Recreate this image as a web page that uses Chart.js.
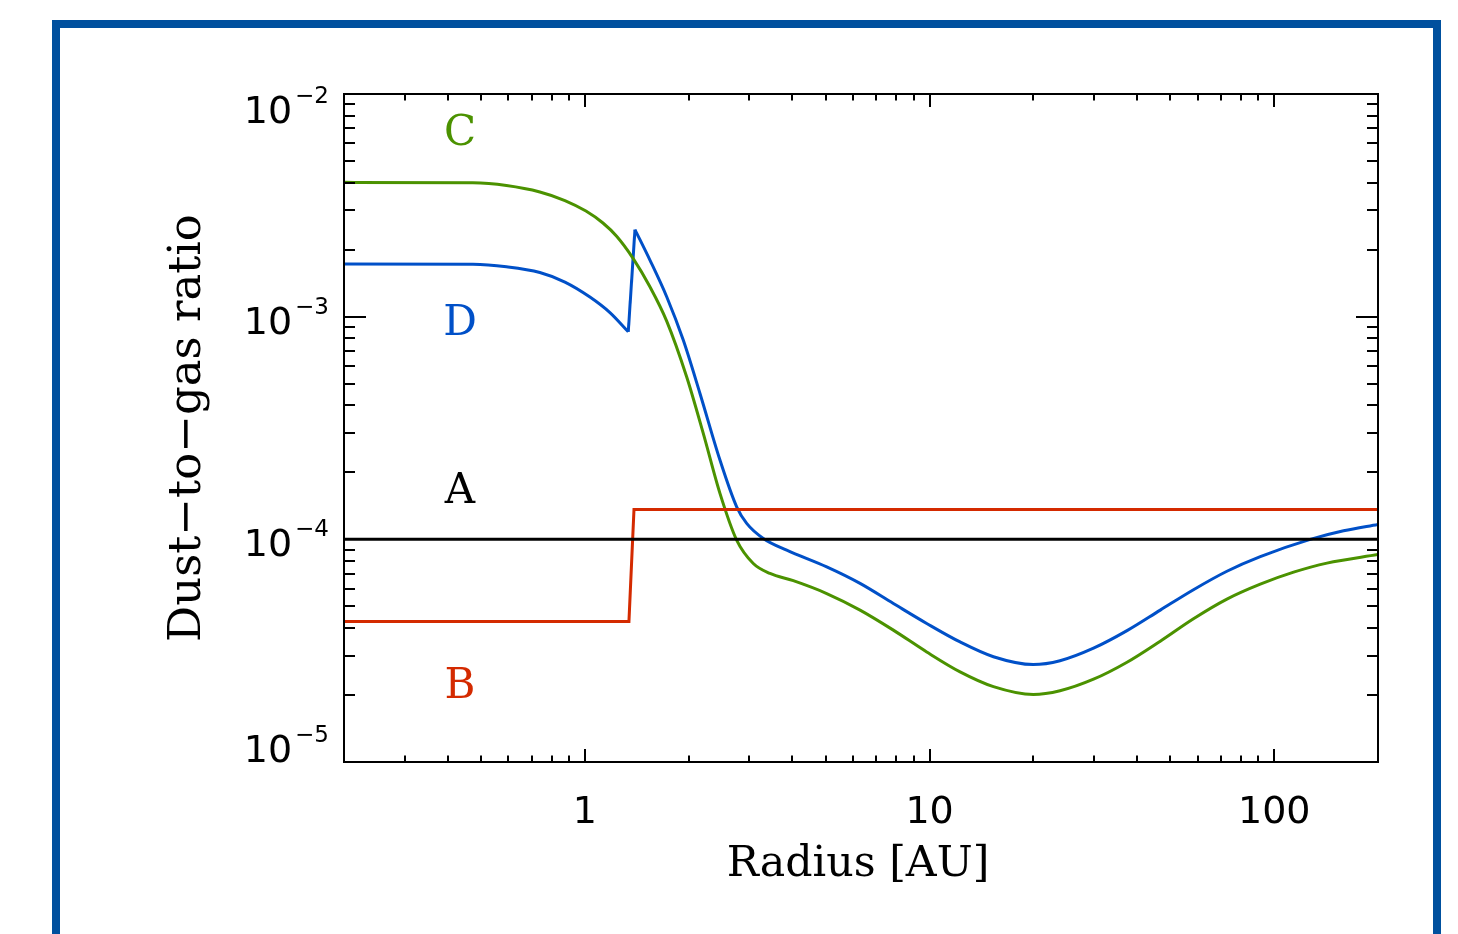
<!DOCTYPE html>
<html>
<head>
<meta charset="utf-8">
<script src="https://cdn.jsdelivr.net/npm/chart.js@4.4.1/dist/chart.umd.min.js"></script>
<style>
  html, body { margin: 0; padding: 0; background: #ffffff; }
  canvas { display: block; }
</style>
</head>
<body>
<canvas id="c" width="1458" height="934"></canvas>
<script>
// ---------- data ----------
const xRange = [0.2, 200];
const yRange = [1e-5, 1e-2];

const xTickValues = [1, 10, 100];
const xTickLabels = ['1', '10', '100'];
const yTickValues = [1e-5, 1e-4, 1e-3, 1e-2];
const yTickBase = '10';
const yTickExponents = ['\u22125', '\u22124', '\u22123', '\u22122'];

const xTitle = 'Radius [AU]';
const yTitle = 'Dust\u2212to\u2212gas ratio';

// Curve A (black)
const aX = [0.2, 200];
const aY = [1e-4, 1e-4];

// Curve B (red)
const bX = [0.2, 1.342, 1.388, 200];
const bY = [4.28e-5, 4.28e-5, 1.362e-4, 1.362e-4];

// Curve C (green)
const cX = [0.2, 0.473, 0.592, 0.740, 0.875, 1.007, 1.128, 1.236, 1.381, 1.544, 1.727, 1.973, 2.205, 2.465, 2.756, 3.080, 3.443, 4.024, 5.03, 6.285, 7.85, 9.81, 12.26, 15.32, 20.0, 23.9, 29.9, 37.4, 46.7, 58.3, 72.9, 91.1, 113.8, 142.2, 200];
const cY = [4.01e-3, 3.99e-3, 3.88e-3, 3.63e-3, 3.323e-3, 2.98e-3, 2.634e-3, 2.297e-3, 1.823e-3, 1.362e-3, 9.55e-4, 5.37e-4, 2.99e-4, 1.608e-4, 9.92e-5, 7.79e-5, 7.03e-5, 6.52e-5, 5.71e-5, 4.81e-5, 3.91e-5, 3.12e-5, 2.54e-5, 2.18e-5, 2.01e-5, 2.09e-5, 2.355e-5, 2.807e-5, 3.49e-5, 4.40e-5, 5.39e-5, 6.29e-5, 7.12e-5, 7.82e-5, 8.54e-5];

// Curve D (blue), inner part (up to the dip) and outer part (from the peak)
const dInnerX = [0.2, 0.473, 0.592, 0.740, 0.875, 1.034, 1.182, 1.336];
const dInnerY = [1.722e-3, 1.718e-3, 1.674e-3, 1.578e-3, 1.430e-3, 1.225e-3, 1.043e-3, 8.55e-4];
const dOuterX = [1.397, 1.544, 1.727, 1.929, 2.157, 2.465, 2.756, 2.947, 3.293, 3.850, 5.03, 6.285, 7.85, 9.81, 12.26, 15.32, 20.0, 23.9, 29.9, 37.4, 46.7, 58.3, 72.9, 91.1, 127.2, 158.9, 200];
const dOuterY = [2.462e-3, 1.796e-3, 1.229e-3, 7.85e-4, 4.52e-4, 2.27e-4, 1.40e-4, 1.179e-4, 1.009e-4, 8.94e-5, 7.52e-5, 6.34e-5, 5.15e-5, 4.19e-5, 3.46e-5, 2.97e-5, 2.74e-5, 2.85e-5, 3.245e-5, 3.89e-5, 4.81e-5, 5.94e-5, 7.19e-5, 8.36e-5, 9.99e-5, 1.092e-4, 1.167e-4];

const curveLabels = ['A', 'B', 'C', 'D'];
const curveLabelX = [0.434, 0.434, 0.434, 0.434];
const curveLabelY = [1.456e-4, 1.94e-5, 5.9e-3, 8.27e-4];

// ---------- styles ----------
const COL_A = '#000000';
const COL_B = '#d42a00';
const COL_C = '#4b9200';
const COL_D = '#0050c8';
const COL_FRAME = '#00509e';

function pts(xs, ys) { return xs.map((x, i) => ({ x: x, y: ys[i] })); }

const datasets = [
  { label: 'A', data: pts(aX, aY), borderColor: COL_A, borderWidth: 3, tension: 0 },
  { label: 'B', data: pts(bX, bY), borderColor: COL_B, borderWidth: 3, tension: 0 },
  { label: 'C', data: pts(cX, cY), borderColor: COL_C, borderWidth: 3, cubicInterpolationMode: 'monotone' },
  { label: 'D', data: pts(dInnerX, dInnerY), borderColor: COL_D, borderWidth: 3, cubicInterpolationMode: 'monotone' },
  { label: 'D jump', data: [
      { x: dInnerX[dInnerX.length - 1], y: dInnerY[dInnerY.length - 1] },
      { x: dOuterX[0], y: dOuterY[0] }
    ], borderColor: COL_D, borderWidth: 3, tension: 0 },
  { label: 'D outer', data: pts(dOuterX, dOuterY), borderColor: COL_D, borderWidth: 3, cubicInterpolationMode: 'monotone' }
];

function fitFont(ctx, text, family, targetWidth) {
  ctx.font = '40px "' + family + '"';
  const w = ctx.measureText(text).width;
  return 40 * targetWidth / w;
}

const axesPlugin = {
  id: 'idlAxes',
  beforeDraw(chart) {
    const ctx = chart.ctx;
    ctx.save();
    ctx.fillStyle = '#ffffff';
    ctx.fillRect(0, 0, chart.width, chart.height);
    ctx.restore();
  },
  afterDatasetsDraw(chart) {
    const ctx = chart.ctx;
    const xs = chart.scales.x, ys = chart.scales.y;
    const a = chart.chartArea;
    ctx.save();
    ctx.strokeStyle = '#000000';
    ctx.lineWidth = 2;
    ctx.lineCap = 'butt';
    ctx.strokeRect(a.left, a.top, a.right - a.left, a.bottom - a.top);

    // x ticks (inside, bottom and top)
    const xMajorLen = 13, xMinorLen = 6.5;
    const xMinor = [];
    [0.1, 1, 10, 100].forEach(d => { for (let k = 2; k <= 9; k++) { const v = k * d; if (v > xRange[0] * 1.001 && v < xRange[1] * 0.999) xMinor.push(v); } });
    ctx.beginPath();
    xMinor.forEach(v => {
      const px = Math.round(xs.getPixelForValue(v));
      ctx.moveTo(px, a.bottom); ctx.lineTo(px, a.bottom - xMinorLen);
      ctx.moveTo(px, a.top); ctx.lineTo(px, a.top + xMinorLen);
    });
    xTickValues.forEach(v => {
      const px = Math.round(xs.getPixelForValue(v));
      ctx.moveTo(px, a.bottom); ctx.lineTo(px, a.bottom - xMajorLen);
      ctx.moveTo(px, a.top); ctx.lineTo(px, a.top + xMajorLen);
    });
    // y ticks (inside, left and right)
    const yMajorLen = 22, yMinorLen = 11;
    [1e-5, 1e-4, 1e-3].forEach(d => {
      for (let k = 2; k <= 9; k++) {
        const py = Math.round(ys.getPixelForValue(k * d));
        ctx.moveTo(a.left, py); ctx.lineTo(a.left + yMinorLen, py);
        ctx.moveTo(a.right, py); ctx.lineTo(a.right - yMinorLen, py);
      }
    });
    yTickValues.forEach(v => {
      const py = Math.round(ys.getPixelForValue(v));
      ctx.moveTo(a.left, py); ctx.lineTo(a.left + yMajorLen, py);
      ctx.moveTo(a.right, py); ctx.lineTo(a.right - yMajorLen, py);
    });
    ctx.stroke();

    // x tick labels
    ctx.fillStyle = '#000000';
    ctx.font = '38px "DejaVu Sans"';
    ctx.textAlign = 'center';
    ctx.textBaseline = 'alphabetic';
    xTickValues.forEach((v, i) => {
      ctx.fillText(xTickLabels[i], xs.getPixelForValue(v), a.bottom + 61);
    });

    // y tick labels: 10 with superscript exponent
    yTickValues.forEach((v, i) => {
      const py = ys.getPixelForValue(v);
      let c = py + 3;
      c = Math.max(a.top + 15, Math.min(a.bottom - 14, c));
      const base = c + 14;
      ctx.font = '38px "DejaVu Sans"';
      const wb = ctx.measureText(yTickBase).width;
      ctx.font = '23px "DejaVu Sans"';
      const we = ctx.measureText(yTickExponents[i]).width;
      const right = a.left - 15;
      const x0 = right - we - wb - 3;
      ctx.textAlign = 'left';
      ctx.font = '38px "DejaVu Sans"';
      ctx.fillText(yTickBase, x0, base);
      ctx.font = '23px "DejaVu Sans"';
      ctx.fillText(yTickExponents[i], x0 + wb + 3, base - 20);
    });

    // axis titles
    const fx = fitFont(ctx, xTitle, 'DejaVu Serif', 263);
    ctx.font = fx.toFixed(1) + 'px "DejaVu Serif"';
    ctx.textAlign = 'center';
    ctx.textBaseline = 'alphabetic';
    ctx.fillText(xTitle, (a.left + a.right) / 2 - 3, 876);

    const fy = fitFont(ctx, yTitle, 'DejaVu Serif', 428);
    ctx.save();
    ctx.translate(200, 428);
    ctx.rotate(-Math.PI / 2);
    ctx.font = fy.toFixed(1) + 'px "DejaVu Serif"';
    ctx.textAlign = 'center';
    ctx.textBaseline = 'alphabetic';
    ctx.fillText(yTitle, 0, 0);
    ctx.restore();

    // curve letters
    const cols = [COL_A, COL_B, COL_C, COL_D];
    ctx.font = '42px "DejaVu Serif"';
    ctx.textAlign = 'center';
    ctx.textBaseline = 'alphabetic';
    curveLabels.forEach((t, i) => {
      ctx.fillStyle = cols[i];
      ctx.fillText(t, xs.getPixelForValue(curveLabelX[i]), ys.getPixelForValue(curveLabelY[i]));
    });

    // outer blue frame
    ctx.strokeStyle = COL_FRAME;
    ctx.lineWidth = 8;
    ctx.strokeRect(56, 24, 1437 - 56, 1200);
    ctx.restore();
  }
};

new Chart(document.getElementById('c'), {
  type: 'line',
  data: { datasets: datasets },
  options: {
    responsive: false,
    animation: false,
    devicePixelRatio: 1,
    layout: { padding: { left: 344, right: 80, top: 94, bottom: 172 } },
    plugins: { legend: { display: false }, tooltip: { enabled: false } },
    elements: { point: { radius: 0 }, line: { fill: false } },
    scales: {
      x: { type: 'logarithmic', min: xRange[0], max: xRange[1], display: false },
      y: { type: 'logarithmic', min: yRange[0], max: yRange[1], display: false }
    }
  },
  plugins: [axesPlugin]
});
</script>
</body>
</html>
